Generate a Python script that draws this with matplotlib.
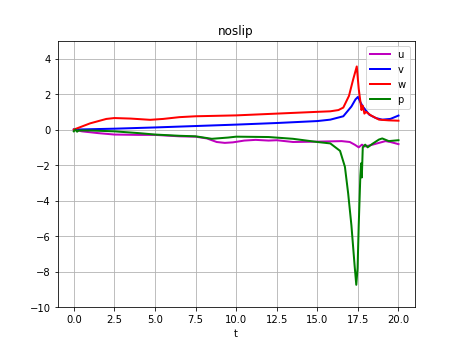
import matplotlib
matplotlib.use("Agg")
import matplotlib.pyplot as plt

# values
t_u = [0, 0.5, 1.5, 2.5, 4, 5, 6.5, 7.5, 8.2, 8.8, 9.3, 9.8, 10.5, 11.2, 12, 12.5, 13.5, 15, 16.5, 17.0, 17.3, 17.55, 17.75, 17.9, 18.2, 18.8, 19.2, 19.5, 20]
u = [0, -0.1, -0.2, -0.28, -0.3, -0.3, -0.38, -0.4, -0.5, -0.7, -0.75, -0.72, -0.62, -0.58, -0.62, -0.6, -0.7, -0.68, -0.65, -0.7, -0.85, -1.0, -0.85, -0.95, -0.9, -0.75, -0.65, -0.7, -0.82]

t_v = [0, 2.5, 5, 7.5, 10, 12.5, 15, 15.8, 16.6, 17.1, 17.35, 17.5, 17.65, 17.8, 18.2, 18.6, 19.0, 19.5, 20]
v = [0, 0.05, 0.12, 0.2, 0.28, 0.37, 0.48, 0.56, 0.75, 1.3, 1.7, 1.84, 1.55, 1.3, 0.84, 0.65, 0.56, 0.6, 0.79]

t_w = [0, 1, 2, 2.5, 3.5, 4.7, 5.5, 6.5, 7.5, 10, 12.5, 15, 15.8, 16.3, 16.6, 16.95, 17.2, 17.43, 17.55, 17.65, 17.72, 17.8, 17.9, 18.0, 18.3, 18.8, 19.4, 20]
w = [0, 0.35, 0.6, 0.65, 0.62, 0.55, 0.6, 0.7, 0.75, 0.8, 0.9, 1.0, 1.03, 1.1, 1.24, 1.9, 2.8, 3.56, 2.3, 1.6, 1.1, 1.35, 0.9, 1.0, 0.8, 0.56, 0.52, 0.5]

t_p = [0, 0.1, 0.2, 0.3, 1, 2.5, 4, 5, 6.5, 7.5, 8.5, 9.5, 10, 12, 13.5, 15, 15.8, 16.4, 16.7, 16.9, 17.1, 17.3, 17.4, 17.48, 17.55, 17.65, 17.7, 17.74, 17.8, 17.95, 18.1, 18.4, 18.8, 19.0, 19.4, 20]
p = [-0.1, 0.0, -0.12, -0.05, -0.05, -0.1, -0.2, -0.28, -0.35, -0.38, -0.52, -0.45, -0.4, -0.42, -0.52, -0.7, -0.78, -1.2, -2.1, -3.6, -5.4, -7.7, -8.75, -7.8, -5.4, -2.6, -1.9, -2.7, -1.0, -0.85, -1.0, -0.8, -0.56, -0.5, -0.65, -0.6]

fig = plt.figure(figsize=(6.4, 4.8), dpi=72)
ax = fig.add_subplot(111)

ax.plot(t_u, u, color='m', lw=2, label='u')
ax.plot(t_v, v, color='b', lw=2, label='v')
ax.plot(t_w, w, color='r', lw=2, label='w')
ax.plot(t_p, p, color='g', lw=2, label='p')

ax.set_ylim(-10, 5)
ax.set_title('noslip')
ax.set_xlabel('t')
ax.grid(True)
ax.legend(loc='upper right')

fig.savefig('out.png', dpi=72)
